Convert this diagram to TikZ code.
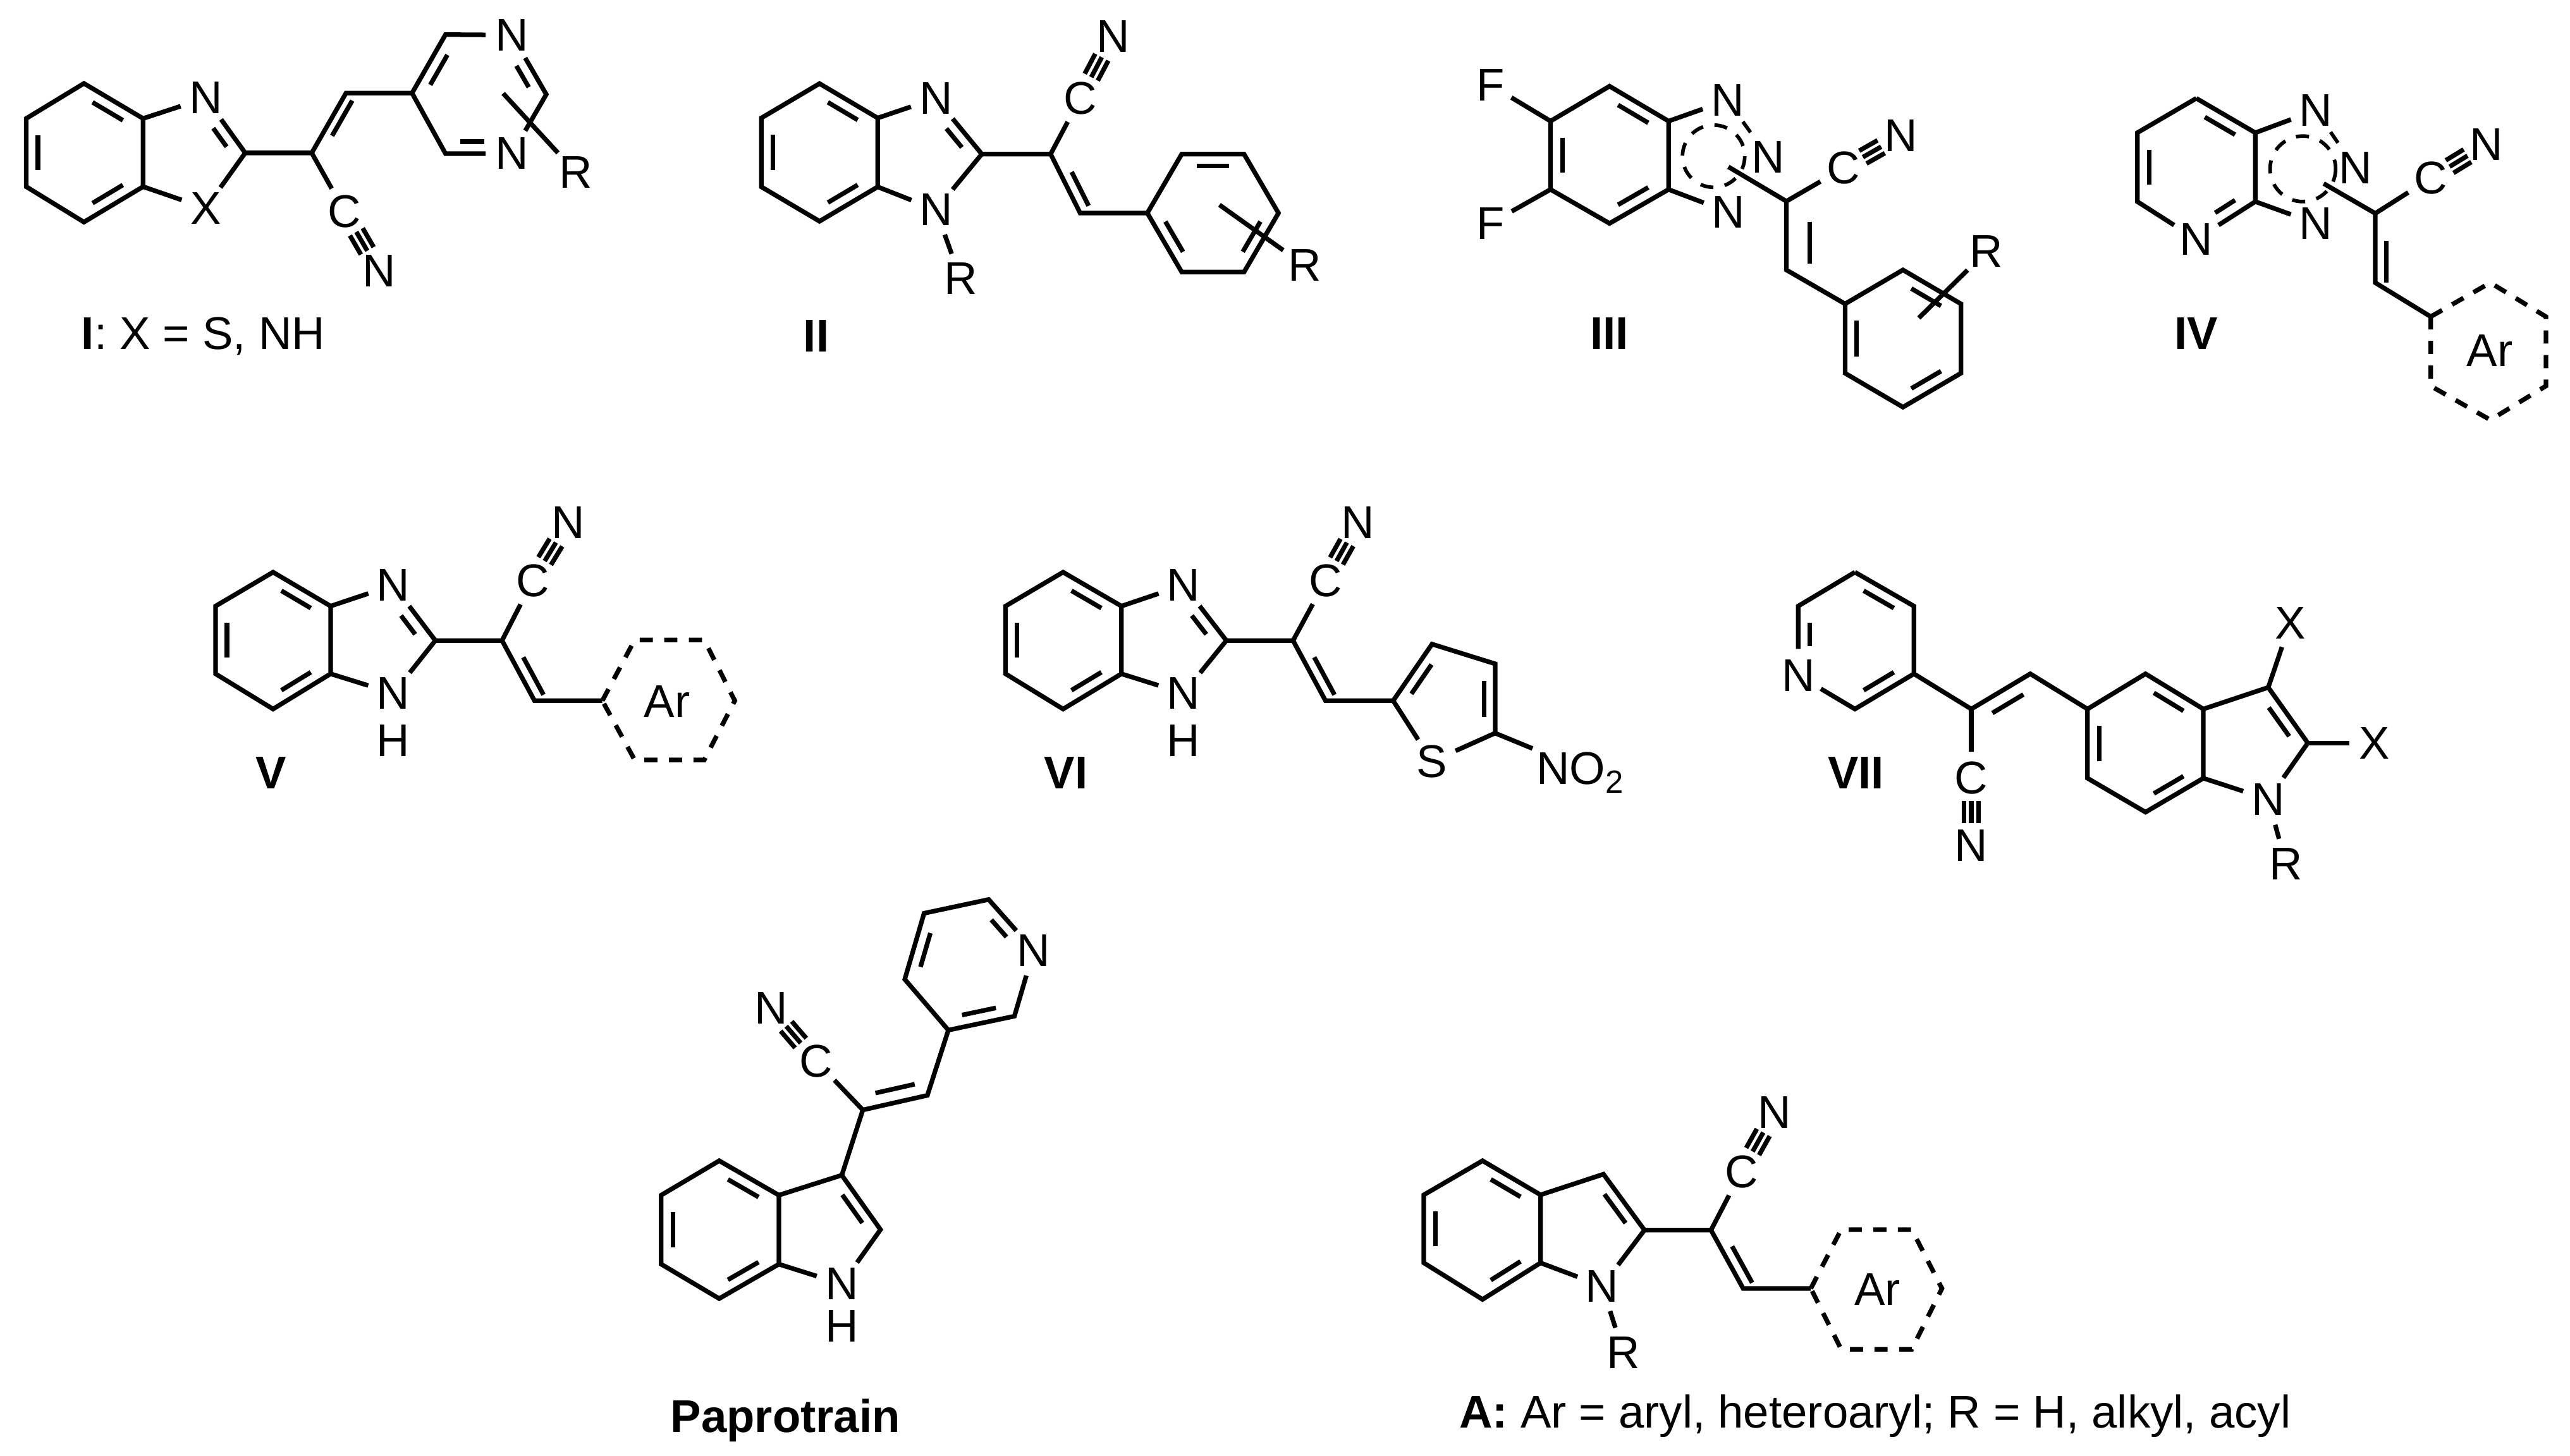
\documentclass[tikz,border=0pt]{standalone}
\usepackage{fontspec}
\setmainfont{Liberation Sans}
\usetikzlibrary{calc}
\newcommand\dbl[6]{\draw ($(#1)!#4!(#2)!#6!(#3)$) -- ($(#2)!#5!(#1)!#6!(#3)$);}
\newcommand\tri[2]{\foreach \o in {-4.5,0,4.5}{\draw ($($(#1)!.34!(#2)$)!\o pt!90:(#2)$) -- ($($(#2)!.34!(#1)$)!\o pt!-90:(#1)$);}}
\begin{document}
\begin{tikzpicture}[x=1pt,y=-1pt,line width=2.8pt,
  every node/.style={font=\fontsize{28}{32}\selectfont},
  atom/.style={circle,inner sep=0.5pt},
  lab/.style={inner sep=0pt},
  dsh/.style={dash pattern=on 8pt off 7pt}]
\useasboundingbox (0,0) rectangle (1568,888);

% ---------- I ----------
\coordinate (i1) at (51.2,50.9); \coordinate (i2) at (87.3,72.3); \coordinate (i3) at (87.3,113.9);
\coordinate (i4) at (51.2,135.5); \coordinate (i5) at (16,113.9); \coordinate (i6) at (16,72.3);
\coordinate (ic) at (51.6,93.2); \coordinate (ic5) at (115,93.3);
\node[atom] (iN3) at (125.5,59.8) {N};
\coordinate (iC2) at (149.6,93.3);
\node[atom] (iX) at (125.5,127) {X};
\coordinate (iCa) at (190.2,93.3); \coordinate (iCb) at (211.1,56.8);
\coordinate (ip5) at (251.4,56.8); \coordinate (ip4) at (271.8,21.1);
\node[atom] (ipN3) at (312.4,21.4) {N};
\coordinate (ip2) at (333.3,57.6);
\node[atom] (ipN1) at (312.4,93.7) {N};
\coordinate (ip6) at (271.8,93.7); \coordinate (ipc) at (292.3,57.4);
\node[atom] (iR) at (351.3,105.1) {R}; \coordinate (iRs) at (307,57);
\node[atom] (iC) at (210.3,129.2) {C}; \node[atom] (iN) at (231.2,165.3) {N};
\draw (i1)--(i2)--(i3)--(i4)--(i5)--(i6)--cycle;
\draw (i2)--(iN3)--(iC2)--(iX)--(i3);
\draw (iC2)--(iCa)--(iCb)--(ip5)--(ip4)--(ipN3)--(ip2)--(ipN1)--(ip6)--(ip5);
\draw (iCa)--(iC); \tri{iC}{iN}; \draw (iRs)--(iR);
\dbl{i1}{i2}{ic}{.18}{.18}{.2} \dbl{i3}{i4}{ic}{.18}{.18}{.2} \dbl{i5}{i6}{ic}{.18}{.18}{.2}
\dbl{iN3}{iC2}{ic5}{.4}{.15}{.25}
\dbl{iCa}{iCb}{ip5}{.15}{.15}{.16}
\dbl{ip5}{ip4}{ipc}{.18}{.18}{.2} \dbl{ipN3}{ip2}{ipc}{.4}{.15}{.2} \dbl{ipN1}{ip6}{ipc}{.4}{.15}{.2}
\node[lab] (lI) at (124,205) {\textbf{I}: X = S, NH};

% ---------- II ----------
\coordinate (b1) at (500,51); \coordinate (b2) at (535.5,72); \coordinate (b3) at (535.5,114);
\coordinate (b4) at (500,135); \coordinate (b5) at (464.5,114); \coordinate (b6) at (464.5,72);
\coordinate (bc) at (500,93); \coordinate (bc5) at (563,93);
\node[atom] (bN3) at (571,60) {N}; \coordinate (bC2) at (599,94);
\node[atom] (bN1) at (571,128) {N}; \node[atom] (bR) at (586,170) {R};
\coordinate (bCa) at (641,94); \node[atom] (bC) at (659,60) {C}; \node[atom] (bN) at (679,22) {N};
\coordinate (bCb) at (659,130);
\coordinate (q1) at (700,130); \coordinate (q2) at (721,94); \coordinate (q3) at (759,94);
\coordinate (q4) at (780,130); \coordinate (q5) at (759,166); \coordinate (q6) at (721,166);
\coordinate (qc) at (740,130); \coordinate (bRs) at (744,125);
\node[atom] (bR2) at (796,162) {R};
\draw (b1)--(b2)--(b3)--(b4)--(b5)--(b6)--cycle;
\draw (b2)--(bN3)--(bC2)--(bN1)--(b3); \draw (bN1)--(bR);
\draw (bC2)--(bCa)--(bCb)--(q1); \draw (bCa)--(bC); \tri{bC}{bN};
\draw (q1)--(q2)--(q3)--(q4)--(q5)--(q6)--cycle; \draw (bRs)--(bR2);
\dbl{b1}{b2}{bc}{.18}{.18}{.2} \dbl{b3}{b4}{bc}{.18}{.18}{.2} \dbl{b5}{b6}{bc}{.18}{.18}{.2}
\dbl{bN3}{bC2}{bc5}{.4}{.15}{.25}
\dbl{bCa}{bCb}{q1}{.15}{.15}{.18}
\dbl{q2}{q3}{qc}{.18}{.18}{.2} \dbl{q4}{q5}{qc}{.18}{.18}{.2} \dbl{q6}{q1}{qc}{.18}{.18}{.2}
\node[lab] at (498,205) {\textbf{II}};

% ---------- III ----------
\coordinate (t1) at (982,52.6); \coordinate (t2) at (1018,73.9); \coordinate (t3) at (1018,115.6);
\coordinate (t4) at (982,136.3); \coordinate (t5) at (946,115.6); \coordinate (t6) at (946,73.9);
\coordinate (tc) at (982,94.5);
\node[atom] (tF1) at (909.3,51.8) {F}; \node[atom] (tF2) at (909.3,136.3) {F};
\node[atom] (tN1) at (1054,61.2) {N}; \node[atom] (tN2) at (1078.7,95.7) {N}; \node[atom] (tN3) at (1054.5,129.4) {N};
\coordinate (tS) at (1054.5,101.8);
\coordinate (tCa) at (1089.9,122.8); \node[atom] (tC) at (1124.7,102.6) {C}; \node[atom] (tN) at (1159.6,82.8) {N};
\coordinate (tCb) at (1089.9,164.7);
\coordinate (r1) at (1125.7,185.4); \coordinate (r2) at (1161,164.7); \coordinate (r3) at (1196.4,185.4);
\coordinate (r4) at (1196.4,227.7); \coordinate (r5) at (1161,248.4); \coordinate (r6) at (1125.7,227.7);
\coordinate (rc) at (1161,206.5); \coordinate (tRs) at (1170.7,194);
\node[atom] (tR) at (1211.9,153.5) {R};
\draw (t1)--(t2)--(t3)--(t4)--(t5)--(t6)--cycle;
\draw (t6)--(tF1); \draw (t5)--(tF2); \draw (t2)--(tN1); \draw (t3)--(tN3);
\draw[line width=2.2pt,dsh] (1045.5,95.3) circle (19);
\draw[line width=2.2pt,dsh] (tN1)--(tN2);
\draw (tS)--(tCa)--(tC); \tri{tC}{tN}; \draw (tCa)--(tCb)--(r1);
\draw (r1)--(r2)--(r3)--(r4)--(r5)--(r6)--cycle; \draw (tRs)--(tR);
\dbl{t1}{t2}{tc}{.18}{.18}{.2} \dbl{t3}{t4}{tc}{.18}{.18}{.2} \dbl{t5}{t6}{tc}{.18}{.18}{.2}
\dbl{tCa}{tCb}{r2}{.12}{.12}{.2}
\dbl{r2}{r3}{rc}{.18}{.18}{.2} \dbl{r4}{r5}{rc}{.18}{.18}{.2} \dbl{r6}{r1}{rc}{.18}{.18}{.2}
\node[lab] at (982,203.5) {\textbf{III}};

% ---------- IV ----------
\coordinate (u1) at (1340,60); \coordinate (u2) at (1376,81); \coordinate (u3) at (1376,123);
\node[atom] (uN) at (1340,146) {N}; \coordinate (u5) at (1304,123); \coordinate (u6) at (1304,81);
\coordinate (uc) at (1340,102);
\node[atom] (uN1) at (1412.8,67.3) {N}; \node[atom] (uN2) at (1437,102.6) {N}; \node[atom] (uN3) at (1412.8,136.3) {N};
\coordinate (uS) at (1417.7,112);
\coordinate (uCa) at (1449.2,130.2); \node[atom] (uC) at (1483,108.7) {C}; \node[atom] (uNN) at (1517,88) {N};
\coordinate (uCb) at (1449.2,172.5);
\coordinate (w1) at (1483,193.2); \coordinate (w2) at (1519.4,172.5); \coordinate (w3) at (1553.3,193.2);
\coordinate (w4) at (1553.3,235.5); \coordinate (w5) at (1519.4,256.2); \coordinate (w6) at (1483,235.5);
\node[lab] (uAr) at (1519,214) {Ar};
\draw (u1)--(u2)--(u3)--(uN)--(u5)--(u6)--(u1);
\draw (u2)--(uN1); \draw (u3)--(uN3);
\draw[line width=2.2pt,dsh] (1405,103) circle (20);
\draw[line width=2.2pt,dsh] (uN1)--(uN2);
\draw (uS)--(uCa)--(uC); \tri{uC}{uNN}; \draw (uCa)--(uCb)--(w1);
\draw[dsh] (w1)--(w2)--(w3)--(w4)--(w5)--(w6)--cycle;
\dbl{u1}{u2}{uc}{.18}{.18}{.2} \dbl{u3}{uN}{uc}{.18}{.4}{.2} \dbl{u5}{u6}{uc}{.18}{.18}{.2}
\dbl{uCa}{uCb}{w1}{.12}{.12}{.2}
\node[lab] at (1340,203.5) {\textbf{IV}};

% ---------- V ----------
\coordinate (v1) at (166.6,349.1); \coordinate (v2) at (201.7,369.8); \coordinate (v3) at (201.7,411.1);
\coordinate (v4) at (166.6,432.6); \coordinate (v5) at (131.5,411.1); \coordinate (v6) at (131.5,369.8);
\coordinate (vc) at (166.6,390.8); \coordinate (vc5) at (228,390.8);
\node[atom] (vN3) at (240,357) {N}; \coordinate (vC2) at (265.6,390.8);
\node[atom] (vN1) at (240,423) {N}; \node[lab] (vH) at (240,452) {H};
\coordinate (vCa) at (306.3,390.8); \node[atom] (vC) at (325,354.3) {C}; \node[atom] (vN) at (346.5,319) {N};
\coordinate (vCb) at (326.1,427.5);
\coordinate (x1) at (367.5,427.5); \coordinate (x2) at (387.2,390.5); \coordinate (x3) at (429.7,390.5);
\coordinate (x4) at (448.3,427.5); \coordinate (x5) at (429.7,463.6); \coordinate (x6) at (387.2,463.6);
\node[lab] (vAr) at (407,428) {Ar};
\draw (v1)--(v2)--(v3)--(v4)--(v5)--(v6)--cycle;
\draw (v2)--(vN3)--(vC2)--(vN1)--(v3);
\draw (vC2)--(vCa)--(vCb)--(x1); \draw (vCa)--(vC); \tri{vC}{vN};
\draw[dsh] (x1)--(x2)--(x3)--(x4)--(x5)--(x6)--cycle;
\dbl{v1}{v2}{vc}{.18}{.18}{.2} \dbl{v3}{v4}{vc}{.18}{.18}{.2} \dbl{v5}{v6}{vc}{.18}{.18}{.2}
\dbl{vN3}{vC2}{vc5}{.4}{.15}{.25}
\dbl{vCa}{vCb}{x1}{.12}{.12}{.18}
\node[lab] at (165.5,471.4) {\textbf{V}};

% ---------- VI ----------
\coordinate (s1) at (648.6,349.1); \coordinate (s2) at (684.2,369.8); \coordinate (s3) at (684.2,411.1);
\coordinate (s4) at (648.6,432.6); \coordinate (s5) at (613.5,411.1); \coordinate (s6) at (613.5,369.8);
\coordinate (sc) at (648.6,390.8); \coordinate (sc5) at (711,390.8);
\node[atom] (sN3) at (722.1,357) {N}; \coordinate (sC2) at (748.2,390.8);
\node[atom] (sN1) at (722.1,423) {N}; \node[lab] (sH) at (722.1,452) {H};
\coordinate (sCa) at (788.9,390.8); \node[atom] (sC) at (808.7,354.3) {C}; \node[atom] (sN) at (828.5,319) {N};
\coordinate (sCb) at (808.7,427.5);
\coordinate (h2) at (850,427.5); \coordinate (h3) at (873.7,393); \coordinate (h4) at (912.2,405);
\coordinate (h5) at (912.2,447.3); \node[atom] (hS) at (873.7,464.5) {S}; \coordinate (hc) at (884.4,427.5);
\node[anchor=west,inner sep=1pt] (hNO) at (935,471.4) {NO\textsubscript{2}};
\draw (s1)--(s2)--(s3)--(s4)--(s5)--(s6)--cycle;
\draw (s2)--(sN3)--(sC2)--(sN1)--(s3);
\draw (sC2)--(sCa)--(sCb)--(h2); \draw (sCa)--(sC); \tri{sC}{sN};
\draw (h2)--(h3)--(h4)--(h5)--(hS)--(h2); \draw (h5)--(hNO.north west);
\dbl{s1}{s2}{sc}{.18}{.18}{.2} \dbl{s3}{s4}{sc}{.18}{.18}{.2} \dbl{s5}{s6}{sc}{.18}{.18}{.2}
\dbl{sN3}{sC2}{sc5}{.4}{.15}{.25}
\dbl{sCa}{sCb}{h2}{.12}{.12}{.18}
\dbl{h2}{h3}{hc}{.16}{.16}{.24} \dbl{h4}{h5}{hc}{.16}{.16}{.24}
\node[lab] at (650.3,471.4) {\textbf{VI}};

% ---------- VII ----------
\coordinate (y1) at (1131.7,349.1); \coordinate (y2) at (1167.7,369.8); \coordinate (y3) at (1167.7,411.1);
\coordinate (y4) at (1131.7,432.6); \node[atom] (yN) at (1097.1,412) {N}; \coordinate (y6) at (1097.1,369.8);
\coordinate (yc) at (1132.4,390.8);
\coordinate (yCa) at (1202.7,432.6); \node[atom] (yC) at (1202.7,474.8) {C}; \node[atom] (yNN) at (1202.7,516.1) {N};
\coordinate (yCb) at (1238.7,411.1); \coordinate (ySd) at (1238,452);
\coordinate (z5) at (1273.6,432.6); \coordinate (z4) at (1309,411.1); \coordinate (z3a) at (1344.3,432.6);
\coordinate (z7a) at (1344.3,474.8); \coordinate (z7) at (1309,495.5); \coordinate (z6) at (1273.6,474.8);
\coordinate (zc) at (1309,453.7);
\coordinate (z3) at (1383.9,419.4); \coordinate (z2) at (1408,453.3); \node[atom] (zN1) at (1383.9,487.7) {N};
\coordinate (zc5) at (1373,453.5);
\node[atom] (zX1) at (1397.2,380.1) {X}; \node[atom] (zX2) at (1448.8,453.3) {X}; \node[atom] (zR) at (1394.7,527.3) {R};
\draw (y1)--(y2)--(y3)--(y4)--(yN)--(y6)--(y1);
\draw (y3)--(yCa)--(yCb)--(z5); \draw (yCa)--(yC); \tri{yC}{yNN};
\draw (z5)--(z4)--(z3a)--(z7a)--(z7)--(z6)--cycle;
\draw (z3a)--(z3)--(z2)--(zN1)--(z7a);
\draw (z3)--(zX1); \draw (z2)--(zX2); \draw (zN1)--(zR);
\dbl{y1}{y2}{yc}{.18}{.18}{.2} \dbl{y3}{y4}{yc}{.18}{.18}{.2} \dbl{yN}{y6}{yc}{.4}{.18}{.2}
\dbl{yCa}{yCb}{ySd}{.15}{.15}{.25}
\dbl{z4}{z3a}{zc}{.18}{.18}{.2} \dbl{z7a}{z7}{zc}{.18}{.18}{.2} \dbl{z6}{z5}{zc}{.18}{.18}{.2}
\dbl{z3}{z2}{zc5}{.16}{.16}{.24}
\node[lab] at (1132.4,471.4) {\textbf{VII}};

% ---------- Paprotrain ----------
\coordinate (p4) at (438.8,708.2); \coordinate (p3a) at (475.2,729.2); \coordinate (p7a) at (475.2,771.3);
\coordinate (p7) at (438.8,792.3); \coordinate (p6) at (403.4,771.3); \coordinate (p5) at (403.4,729.2);
\coordinate (pc) at (439.3,750);
\coordinate (p3) at (513.6,717); \coordinate (p2) at (537.2,750.2); \node[atom] (pN1) at (513.6,783.4) {N};
\node[lab] (pH) at (513.6,808.9) {H}; \coordinate (pc5) at (503,750.2);
\coordinate (pCa) at (526.4,677.2); \node[atom] (pC) at (497.9,647.3) {C}; \node[atom] (pN) at (470.3,615.2) {N};
\coordinate (pCb) at (565.8,668.3); \coordinate (pSd) at (546,630);
\coordinate (o3) at (578.6,628.5); \coordinate (o2) at (618.9,620); \node[atom] (oN) at (630.7,579.8) {N};
\coordinate (o6) at (603.2,548.8); \coordinate (o5) at (563.8,557.2); \coordinate (o4) at (552,597.5);
\coordinate (oc) at (591.5,588.6);
\draw (p4)--(p3a)--(p7a)--(p7)--(p6)--(p5)--cycle;
\draw (p3a)--(p3)--(p2)--(pN1)--(p7a);
\draw (p3)--(pCa)--(pCb)--(o3); \draw (pCa)--(pC); \tri{pC}{pN};
\draw (o3)--(o2)--(oN)--(o6)--(o5)--(o4)--(o3);
\dbl{p4}{p3a}{pc}{.18}{.18}{.2} \dbl{p7a}{p7}{pc}{.18}{.18}{.2} \dbl{p6}{p5}{pc}{.18}{.18}{.2}
\dbl{p3}{p2}{pc5}{.16}{.16}{.24}
\dbl{pCa}{pCb}{pSd}{.12}{.12}{.2}
\dbl{o5}{o4}{oc}{.18}{.18}{.2} \dbl{o6}{oN}{oc}{.18}{.4}{.2} \dbl{o3}{o2}{oc}{.18}{.18}{.2}
\node[lab] at (479.2,866.5) {\textbf{Paprotrain}};

% ---------- A ----------
\coordinate (a1) at (904.5,708.2); \coordinate (a2) at (939.9,729); \coordinate (a3) at (939.9,770.5);
\coordinate (a4) at (904.5,792.8); \coordinate (a5) at (868.7,770.5); \coordinate (a6) at (868.7,729);
\coordinate (ac) at (904.3,750);
\coordinate (aC3) at (978.3,716.4); \coordinate (aC2) at (1003.3,750.5); \node[atom] (aN1) at (977.5,784.6) {N};
\node[atom] (aR) at (990.4,825.4) {R}; \coordinate (ac5) at (968,750);
\coordinate (aCa) at (1043.9,750.5); \node[atom] (aC) at (1062.4,714.9) {C}; \node[atom] (aN) at (1082.7,678.6) {N};
\coordinate (aCb) at (1063.5,786.1);
\coordinate (k1) at (1104.8,786.1); \coordinate (k2) at (1123.3,750.2); \coordinate (k3) at (1166.4,750.2);
\coordinate (k4) at (1184.8,786.1); \coordinate (k5) at (1166.4,823.2); \coordinate (k6) at (1123.3,823.2);
\node[lab] (aAr) at (1145.4,786.8) {Ar};
\draw (a1)--(a2)--(a3)--(a4)--(a5)--(a6)--cycle;
\draw (a2)--(aC3)--(aC2)--(aN1)--(a3); \draw (aN1)--(aR);
\draw (aC2)--(aCa)--(aCb)--(k1); \draw (aCa)--(aC); \tri{aC}{aN};
\draw[dsh] (k1)--(k2)--(k3)--(k4)--(k5)--(k6)--cycle;
\dbl{a1}{a2}{ac}{.18}{.18}{.2} \dbl{a3}{a4}{ac}{.18}{.18}{.2} \dbl{a5}{a6}{ac}{.18}{.18}{.2}
\dbl{aC3}{aC2}{ac5}{.16}{.16}{.24}
\dbl{aCa}{aCb}{k1}{.12}{.12}{.18}
\node[lab] at (1144,864) {\textbf{A:} Ar = aryl, heteroaryl; R = H, alkyl, acyl};
\end{tikzpicture}
\end{document}
